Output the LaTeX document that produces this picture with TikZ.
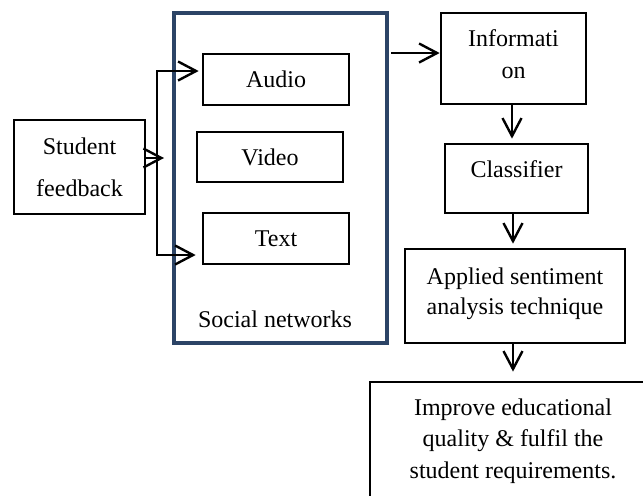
\documentclass[tikz,border=0pt]{standalone}
\usepackage{fontspec}
\setmainfont{Liberation Serif}
\usetikzlibrary{arrows.meta}
\definecolor{socblue}{RGB}{44,68,102}
\tikzset{
  box/.style={draw, line width=1.35pt, align=center, inner sep=0pt,
    font=\fontsize{12}{15.7}\selectfont},
  socbox/.style={draw=socblue, line width=2pt, minimum width=106.5pt, minimum height=165pt},
  lbl/.style={inner sep=0pt, font=\fontsize{12}{15.7}\selectfont},
  arr/.style={line width=1.2pt, -{Straight Barb[length=9pt,width=9.5pt,line width=1.2pt]}},
  arrboth/.style={line width=1.2pt, {Straight Barb[length=9pt,width=9.5pt,line width=1.2pt]}-{Straight Barb[length=9pt,width=9.5pt,line width=1.2pt]}},
}
\begin{document}
\begin{tikzpicture}[x=0.5pt,y=-0.5pt]
    \path[use as bounding box] (0,0) rectangle (643,495);
    \clip (0,0) rectangle (643,495);

    % left part
    \node[box, minimum width=65.5pt, minimum height=47pt] (stud) at (79.5,167) {Student\\[5.3pt]feedback};
    \node[socbox] (soc) at (280.5,178) {};
    \node[lbl] (soclab) at (275,319) {Social networks};
    \node[box, minimum width=73pt, minimum height=25.5pt] (audio) at (276,79.5) {Audio};
    \node[box, minimum width=73pt, minimum height=25pt] (video) at (270,157) {Video};
    \node[box, minimum width=73pt, minimum height=25.5pt] (txt) at (276,238.5) {Text};

    \coordinate (brtop) at (157,71);
    \coordinate (brbot) at (157,255);
    \coordinate (brmid) at (164,158);
    \draw[arr] (stud.east |- brmid) -- (brmid);
    \draw[arrboth, shorten <=1.5pt, shorten >=3pt] (audio.west |- brtop) -- (brtop) -- (brbot) -- (txt.west |- brbot);

    % right part
    \node[box, minimum width=72.5pt, minimum height=45.5pt, text depth=4pt] (info) at (513.5,58.5) {Informati\\[0.3pt]on};
    \node[box, minimum width=71.5pt, minimum height=34.5pt, text depth=9.5pt] (clas) at (516.5,178.5) {Classifier};
    \node[box, minimum width=110pt, minimum height=47pt, text depth=5.2pt] (appl) at (515,296) {Applied sentiment\\[-0.7pt]analysis technique};
    \node[box, draw=none, outer sep=0pt, minimum width=143pt, minimum height=62pt, text depth=5.6pt] (impr) at (513,444) {Improve educational\\quality \& fulfil the\\student requirements.};
    \draw[line width=1.35pt] (impr.north west) rectangle ([xshift=30pt]impr.south east);

    \coordinate (socout) at (391,53);
    \draw[arr] (socout) -- (socout -| info.west);
    \draw[arr, shorten >=2pt] ([xshift=-0.75pt]info.south) -- ([xshift=-0.75pt]info.south |- clas.north);
    \draw[arr, shorten >=2pt] ([xshift=-1.75pt]clas.south) -- ([xshift=-1.75pt]clas.south |- appl.north);
    \draw[arr, shorten >=5.2pt] ([xshift=-1pt]appl.south) -- ([xshift=-1pt]appl.south |- impr.north);

\end{tikzpicture}
\end{document}
